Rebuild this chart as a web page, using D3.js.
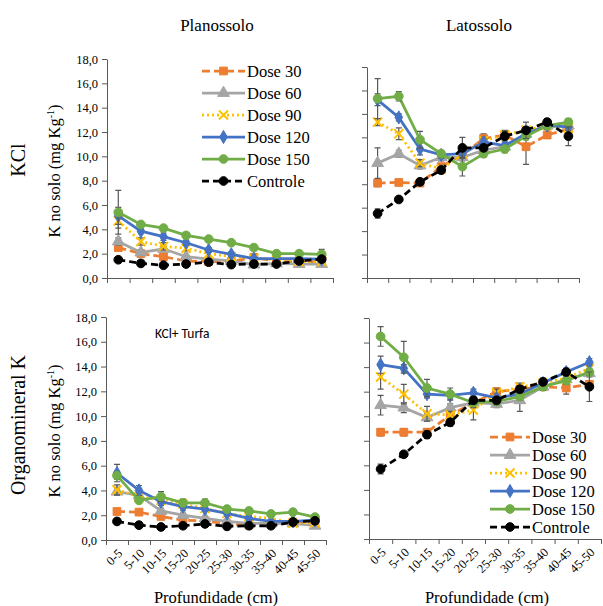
<!DOCTYPE html>
<html>
<head>
<meta charset="utf-8">
<script src="https://cdn.jsdelivr.net/npm/d3@7"></script>
<style>
	body { margin: 0; background: #fff; }
</style>
</head>
<body>
<div id="chart"></div>
<script>
// depth classes (x categories)
var depths = ['0-5', '5-10', '10-15', '15-20', '20-25', '25-30', '30-35', '35-40', '40-45', '45-50'];
var seriesNames = ['Dose 30', 'Dose 60', 'Dose 90', 'Dose 120', 'Dose 150', 'Controle'];
var yTicks = [0, 2, 4, 6, 8, 10, 12, 14, 16, 18];
var yTickLabels = ['0,0', '2,0', '4,0', '6,0', '8,0', '10,0', '12,0', '14,0', '16,0', '18,0'];

// Planossolo, KCl
var planKCl = [
	[2.5, 2.0, 1.75, 1.4, 1.35, 1.35, 1.7, 1.35, 1.35, 1.35],
	[3.0, 2.1, 2.4, 1.75, 1.55, 1.4, 1.1, 1.2, 1.15, 1.15],
	[4.7, 3.0, 2.6, 2.45, 2.0, 1.75, 1.6, 1.5, 1.35, 1.35],
	[5.1, 3.85, 3.4, 2.9, 2.3, 1.95, 1.6, 1.6, 1.6, 1.55],
	[5.4, 4.4, 4.1, 3.5, 3.2, 2.9, 2.5, 2.0, 2.0, 1.95],
	[1.5, 1.2, 1.05, 1.15, 1.3, 1.1, 1.15, 1.15, 1.4, 1.55]
];
var planKClErr = [
	[0.2, 0.15, 0.3, 0.1, 0.1, 0.1, 0.3, 0.1, 0.1, 0.1],
	[0.3, 0.2, 0.2, 0.1, 0.1, 0.1, 0.1, 0.1, 0.1, 0.1],
	[0.6, 0.3, 0.3, 0.2, 0.2, 0.2, 0.2, 0.1, 0.1, 0.1],
	[0.7, 0.2, 0.3, 0.2, 0.2, 0.2, 0.1, 0.1, 0.1, 0.1],
	[1.8, 0.2, 0.2, 0.2, 0.1, 0.1, 0.2, 0.1, 0.1, 0.4],
	[0.1, 0.1, 0.1, 0.1, 0.1, 0.1, 0.1, 0.1, 0.1, 0.1]
];

// Latossolo, KCl
var latKCl = [
	[8.1, 8.15, 8.1, 9.5, 10.5, 11.9, 12.2, 11.2, 12.2, 12.7],
	[9.8, 10.6, 9.6, 10.3, 10.3, 10.9, 11.2, 12.3, 13.0, 13.0],
	[13.3, 12.3, 9.8, 9.3, 10.6, 11.7, 12.2, 12.6, 13.0, 12.8],
	[15.2, 13.7, 11.0, 10.5, 10.6, 11.6, 11.3, 12.3, 13.0, 12.9],
	[15.3, 15.5, 11.8, 10.6, 9.5, 10.6, 11.0, 12.1, 13.0, 13.3],
	[5.5, 6.7, 8.2, 9.2, 11.1, 11.1, 12.1, 12.6, 13.3, 12.1]
];
var latKClErr = [
	[0.3, 0.2, 0.2, 0.2, 0.3, 0.4, 0.3, 1.5, 0.3, 0.3],
	[1.3, 0.3, 0.3, 0.3, 0.3, 0.3, 0.3, 0.3, 0.3, 0.3],
	[0.3, 0.5, 0.3, 0.3, 0.3, 0.3, 0.4, 0.3, 0.3, 0.3],
	[0.5, 0.3, 0.5, 0.3, 0.3, 0.3, 0.3, 0.3, 0.3, 0.3],
	[1.7, 0.4, 0.7, 0.3, 0.8, 0.3, 0.3, 0.3, 0.3, 0.3],
	[0.4, 0.2, 0.3, 0.3, 0.9, 0.3, 0.4, 0.7, 0.3, 0.8]
];

// Planossolo, Organomineral K
var planOrg = [
	[2.3, 2.25, 1.9, 1.6, 1.55, 1.3, 1.2, 1.3, 1.45, 1.4],
	[3.9, 3.6, 2.35, 2.0, 1.75, 1.5, 1.35, 1.35, 1.35, 1.15],
	[4.05, 3.5, 3.2, 2.9, 2.55, 2.15, 1.9, 1.75, 1.35, 1.4],
	[5.4, 4.0, 3.1, 2.7, 2.5, 2.15, 1.75, 1.5, 1.5, 1.6],
	[5.2, 3.2, 3.5, 3.0, 3.0, 2.5, 2.35, 2.1, 2.25, 1.85],
	[1.5, 1.2, 1.05, 1.15, 1.3, 1.1, 1.15, 1.15, 1.45, 1.55]
];
var planOrgErr = [
	[0.2, 0.2, 0.15, 0.1, 0.1, 0.1, 0.1, 0.1, 0.1, 0.1],
	[0.3, 0.2, 0.2, 0.2, 0.1, 0.1, 0.1, 0.1, 0.1, 0.1],
	[0.4, 0.3, 0.2, 0.2, 0.2, 0.1, 0.1, 0.1, 0.1, 0.1],
	[0.7, 0.4, 0.3, 0.3, 0.2, 0.2, 0.2, 0.1, 0.1, 0.1],
	[0.3, 0.2, 0.4, 0.3, 0.3, 0.2, 0.2, 0.2, 0.2, 0.1],
	[0.15, 0.1, 0.1, 0.1, 0.1, 0.1, 0.1, 0.1, 0.1, 0.1]
];

// Latossolo, Organomineral K
var latOrg = [
	[8.7, 8.7, 8.7, 10.1, 11.1, 12.0, 12.2, 12.4, 12.3, 12.6],
	[10.9, 10.7, 9.9, 10.7, 11.1, 11.0, 11.3, 12.4, 13.0, 13.5],
	[13.2, 11.8, 10.2, 10.1, 10.5, 11.9, 12.4, 12.7, 13.1, 13.9],
	[14.2, 13.9, 11.8, 11.7, 11.9, 11.5, 11.8, 12.7, 13.6, 14.4],
	[16.5, 14.8, 12.3, 11.8, 11.1, 11.2, 11.6, 12.4, 12.9, 13.6],
	[5.7, 6.9, 8.5, 9.5, 11.3, 11.3, 12.2, 12.8, 13.6, 12.4]
];
var latOrgErr = [
	[0.3, 0.3, 0.3, 0.3, 0.3, 0.3, 0.3, 0.3, 0.5, 0.3],
	[0.8, 0.4, 0.3, 0.3, 0.3, 0.3, 0.9, 0.3, 0.3, 0.3],
	[1.0, 0.8, 0.6, 0.3, 0.8, 0.3, 0.3, 0.3, 0.3, 0.3],
	[0.7, 0.3, 0.3, 0.3, 0.3, 0.3, 0.3, 0.3, 0.3, 0.3],
	[0.8, 1.3, 0.7, 0.5, 0.4, 0.3, 0.3, 0.3, 0.3, 0.3],
	[0.4, 0.2, 0.3, 0.3, 0.3, 0.3, 0.3, 0.3, 0.3, 1.2]
];

var SERIF = '"Liberation Serif", "Times New Roman", "DejaVu Serif", serif';

var Chart = {

	styles: [
		{ color: '#ED7D31', dash: '8,4', symbol: d3.symbolSquare, size: 60, stroke: false },
		{ color: '#A5A5A5', dash: null, symbol: d3.symbolTriangle, size: 60, stroke: false },
		{ color: '#FFC000', dash: '2,3', symbol: d3.symbolTimes, size: 55, stroke: true },
		{ color: '#4472C4', dash: null, symbol: d3.symbolDiamond, size: 50, stroke: false },
		{ color: '#70AD47', dash: null, symbol: d3.symbolCircle, size: 60, stroke: false },
		{ color: '#000000', dash: '7,4', symbol: d3.symbolCircle, size: 60, stroke: false }
	],

	init: function() {
		var svg = d3.select('#chart').append('svg')
			.attr('width', 603)
			.attr('height', 606);

		Chart.drawPanel(svg, { x0: 107, x1: 333, y0: 59, y1: 278, values: planKCl, err: planKClErr, yLabels: true, xLabels: false });
		Chart.drawPanel(svg, { x0: 367, x1: 579, y0: 67, y1: 278, values: latKCl, err: latKClErr, yLabels: false, xLabels: false });
		Chart.drawPanel(svg, { x0: 106, x1: 326, y0: 317, y1: 540, values: planOrg, err: planOrgErr, yLabels: true, xLabels: true });
		Chart.drawPanel(svg, { x0: 369, x1: 601, y0: 318, y1: 539, values: latOrg, err: latOrgErr, yLabels: false, xLabels: true });

		Chart.drawLegend(svg, 202, 245, 247, 71, 22);
		Chart.drawLegend(svg, 490, 530, 532, 437, 18);
		Chart.drawTitles(svg);

		// serif everywhere except the panel note
		svg.selectAll('text:not(.sans)')
			.attr('font-family', null)
			.style('font-family', SERIF)
			.style('fill', '#000');
	},

	drawPanel: function(svg, p) {
		var x = d3.scaleBand().domain(depths).range([p.x0, p.x1]);
		var xb = d3.scaleLinear().domain([0, depths.length]).range([p.x0, p.x1]);
		var y = d3.scaleLinear().domain([0, 18]).range([p.y1, p.y0]);

		var yAxis = d3.axisLeft(y)
			.tickValues(yTicks)
			.tickSize(5)
			.tickSizeOuter(0)
			.tickFormat(function(d, i) { return p.yLabels ? yTickLabels[i] : ''; });

		var gy = svg.append('g')
			.attr('transform', 'translate(' + p.x0 + ',0)')
			.call(yAxis);
		gy.selectAll('text').style('font-size', '12.5px').attr('dx', '-1');

		svg.append('g')
			.attr('transform', 'translate(0,' + p.y1 + ')')
			.call(d3.axisBottom(xb).ticks(10).tickSize(5).tickSizeOuter(0).tickFormat(''));

		svg.selectAll('.domain, .tick line').attr('stroke', '#595959').attr('stroke-width', 1);

		if (p.xLabels) {
			svg.append('g').selectAll('text')
				.data(depths)
				.enter()
				.append('text')
				.attr('transform', function(d) {
					return 'translate(' + (x(d) + x.bandwidth() / 2 + 3) + ',' + (p.y1 + 11) + ') rotate(-45)';
				})
				.attr('text-anchor', 'end')
				.attr('dy', '0.35em')
				.style('font-size', '12.5px')
				.text(function(d) { return d; });
		}

		var cx = function(i) { return x(depths[i]) + x.bandwidth() / 2; };

		p.values.forEach(function(vals, s) {
			var st = Chart.styles[s];
			var g = svg.append('g').attr('class', 'series');

			var line = d3.line()
				.x(function(d, i) { return cx(i); })
				.y(function(d) { return y(d); });

			g.append('path')
				.datum(vals)
				.attr('d', line)
				.attr('fill', 'none')
				.attr('stroke', st.color)
				.attr('stroke-width', 2.75)
				.attr('stroke-dasharray', st.dash);

			// error bars
			var errs = p.err[s];
			g.selectAll('path.err')
				.data(vals)
				.enter()
				.append('path')
				.attr('class', 'err')
				.attr('d', function(d, i) {
					var xc = cx(i), hi = y(d + errs[i]), lo = y(d - errs[i]);
					return 'M' + xc + ',' + hi + 'V' + lo +
						'M' + (xc - 3) + ',' + hi + 'H' + (xc + 3) +
						'M' + (xc - 3) + ',' + lo + 'H' + (xc + 3);
				})
				.attr('fill', 'none')
				.attr('stroke', '#595959')
				.attr('stroke-width', 1.2);

			g.selectAll('path.mark')
				.data(vals)
				.enter()
				.append('path')
				.attr('class', 'mark')
				.attr('d', d3.symbol().type(st.symbol).size(st.size))
				.attr('transform', function(d, i) { return 'translate(' + cx(i) + ',' + y(d) + ')'; })
				.attr('fill', st.stroke ? 'none' : st.color)
				.attr('stroke', st.color)
				.attr('stroke-width', st.stroke ? 2 : 1);
		});
	},

	drawLegend: function(svg, lx0, lx1, tx, ty, step) {
		var g = svg.append('g').attr('class', 'legend');
		seriesNames.forEach(function(name, i) {
			var st = Chart.styles[i], yy = ty + i * step;
			g.append('line')
				.attr('x1', lx0).attr('x2', lx1)
				.attr('y1', yy).attr('y2', yy)
				.attr('stroke', st.color)
				.attr('stroke-width', 2.75)
				.attr('stroke-dasharray', st.dash);
			g.append('path')
				.attr('d', d3.symbol().type(st.symbol).size(st.size)())
				.attr('transform', 'translate(' + (lx0 + lx1) / 2 + ',' + yy + ')')
				.attr('fill', st.stroke ? 'none' : st.color)
				.attr('stroke', st.color)
				.attr('stroke-width', st.stroke ? 2 : 1);
			g.append('text')
				.attr('x', tx)
				.attr('y', yy)
				.attr('dy', '0.35em')
				.style('font-size', '16.5px')
				.text(name);
		});
	},

	drawTitles: function(svg) {
		svg.append('text').attr('x', 217).attr('y', 31).attr('text-anchor', 'middle')
			.style('font-size', '17px').text('Planossolo');
		svg.append('text').attr('x', 479).attr('y', 31).attr('text-anchor', 'middle')
			.style('font-size', '17px').text('Latossolo');

		svg.append('text').attr('transform', 'translate(25,160) rotate(-90)').attr('text-anchor', 'middle')
			.style('font-size', '20px').text('KCl');
		svg.append('text').attr('transform', 'translate(25,425) rotate(-90)').attr('text-anchor', 'middle')
			.style('font-size', '20px').text('Organomineral K');

		[171, 431].forEach(function(cy) {
			var t = svg.append('text').attr('transform', 'translate(60,' + cy + ') rotate(-90)')
				.attr('text-anchor', 'middle')
				.style('font-size', '16.5px');
			t.append('tspan').text('K no solo (mg Kg');
			t.append('tspan').attr('dy', '-6').style('font-size', '10px').text('-1');
			t.append('tspan').attr('dy', '6').text(')');
		});

		svg.append('text').attr('class', 'sans').attr('x', 155).attr('y', 338)
			.style('font-family', 'Carlito, "Open Sans", sans-serif')
			.style('font-size', '13.5px').text('KCl+ Turfa');

		svg.append('text').attr('x', 216).attr('y', 603).attr('text-anchor', 'middle')
			.style('font-size', '16.5px').text('Profundidade (cm)');
		svg.append('text').attr('x', 487).attr('y', 603).attr('text-anchor', 'middle')
			.style('font-size', '16.5px').text('Profundidade (cm)');
	}
};

Chart.init();
</script>
</body>
</html>
